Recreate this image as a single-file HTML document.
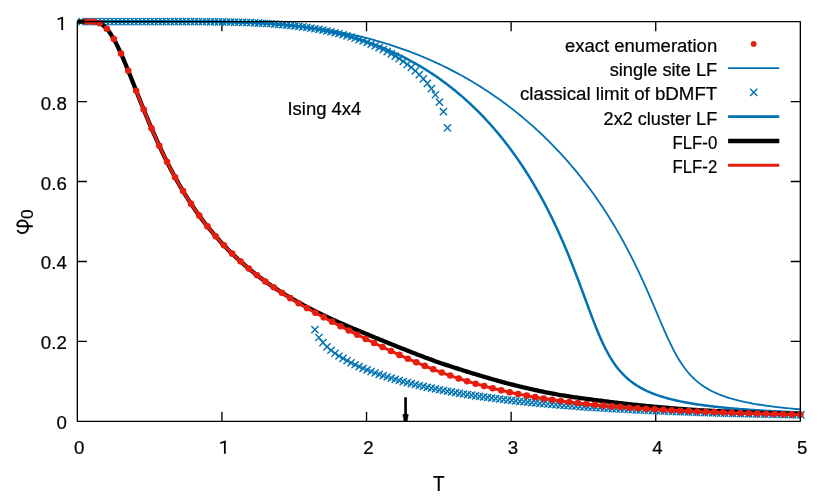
<!DOCTYPE html><html><head><meta charset="utf-8"><title>plot</title><style>html,body{margin:0;padding:0;background:#fff}svg{display:block}text{font-family:"Liberation Sans",sans-serif;font-size:18.7px;fill:#000;stroke:#000;stroke-width:.22px}</style></head><body>
<svg width="830" height="498" viewBox="0 0 830 498">
<rect width="830" height="498" fill="#fff"/>
<path d="M221.93,421.33 v-9.6 M221.93,21.67 v9.6 M366.53,421.33 v-9.6 M366.53,21.67 v9.6 M511.13,421.33 v-9.6 M511.13,21.67 v9.6 M655.73,421.33 v-9.6 M655.73,21.67 v9.6 M77.33,341.40 h9.6 M800.33,341.40 h-9.6 M77.33,261.47 h9.6 M800.33,261.47 h-9.6 M77.33,181.53 h9.6 M800.33,181.53 h-9.6 M77.33,101.60 h9.6 M800.33,101.60 h-9.6" stroke="#000" stroke-width="1.33" fill="none"/>
<path transform="translate(63.1,29.9)" d="M0,0 H-1.8 V-11.1 L-5.5,-9.7 V-11.4 L-0.5,-13.2 H0 Z" fill="#000"/>
<path transform="translate(225.75,453.75)" d="M0,0 H-1.8 V-11.1 L-5.5,-9.7 V-11.4 L-0.5,-13.2 H0 Z" fill="#000"/>
<path transform="translate(0,0.5)" d="M17.4,229.6 C18.5,231.6 20.5,232.6 22.3,232.6 C25.8,232.6 28.0,229.9 28.0,226.3 C28.0,222.8 25.8,220.0 22.3,220.0 C19.5,220.0 17.3,221.9 17.3,224.3 C17.3,225.3 17.9,225.7 19.0,225.7 H32.8" fill="none" stroke="#000" stroke-width="1.9"/>
<defs><clipPath id="c"><rect x="71.33" y="15.670000000000002" width="735.0" height="411.65999999999997"/></clipPath>
<path id="x" d="M-3.6,-3.6 L3.6,3.6 M-3.6,3.6 L3.6,-3.6" stroke="#0072b2" stroke-width="1.4" fill="none"/></defs>
<g clip-path="url(#c)" fill="none" stroke-linejoin="round">
<path d="M77.33,21.67 L78.78,21.67 L80.22,21.67 L81.67,21.67 L83.11,21.67 L84.56,21.67 L86.01,21.67 L87.45,21.67 L88.90,21.67 L90.34,21.67 L91.79,21.67 L93.24,21.67 L94.68,21.67 L96.13,21.67 L97.57,21.67 L99.02,21.67 L100.47,21.67 L101.91,21.67 L103.36,21.67 L104.80,21.67 L106.25,21.67 L107.70,21.67 L109.14,21.67 L110.59,21.67 L112.03,21.67 L113.48,21.67 L114.93,21.67 L116.37,21.67 L117.82,21.67 L119.26,21.67 L120.71,21.67 L122.16,21.67 L123.60,21.67 L125.05,21.67 L126.49,21.67 L127.94,21.67 L129.39,21.67 L130.83,21.67 L132.28,21.67 L133.72,21.67 L135.17,21.67 L136.62,21.67 L138.06,21.67 L139.51,21.67 L140.95,21.67 L142.40,21.67 L143.85,21.67 L145.29,21.67 L146.74,21.67 L148.18,21.67 L149.63,21.67 L151.08,21.67 L152.52,21.67 L153.97,21.67 L155.41,21.67 L156.86,21.67 L158.31,21.67 L159.75,21.67 L161.20,21.67 L162.64,21.67 L164.09,21.67 L165.54,21.67 L166.98,21.67 L168.43,21.67 L169.87,21.67 L171.32,21.67 L172.77,21.67 L174.21,21.67 L175.66,21.68 L177.10,21.68 L178.55,21.68 L180.00,21.68 L181.44,21.68 L182.89,21.68 L184.33,21.68 L185.78,21.69 L187.23,21.69 L188.67,21.69 L190.12,21.70 L191.56,21.70 L193.01,21.70 L194.46,21.71 L195.90,21.71 L197.35,21.72 L198.79,21.72 L200.24,21.73 L201.69,21.74 L203.13,21.75 L204.58,21.75 L206.02,21.76 L207.47,21.77 L208.92,21.78 L210.36,21.80 L211.81,21.81 L213.25,21.82 L214.70,21.84 L216.15,21.85 L217.59,21.87 L219.04,21.89 L220.48,21.90 L221.93,21.92 L223.38,21.94 L224.82,21.97 L226.27,21.99 L227.71,22.02 L229.16,22.04 L230.61,22.07 L232.05,22.10 L233.50,22.13 L234.94,22.17 L236.39,22.20 L237.84,22.24 L239.28,22.27 L240.73,22.32 L242.17,22.36 L243.62,22.40 L245.07,22.45 L246.51,22.50 L247.96,22.55 L249.40,22.60 L250.85,22.65 L252.30,22.71 L253.74,22.77 L255.19,22.83 L256.63,22.89 L258.08,22.96 L259.53,23.03 L260.97,23.10 L262.42,23.17 L263.86,23.25 L265.31,23.33 L266.76,23.41 L268.20,23.50 L269.65,23.59 L271.09,23.68 L272.54,23.77 L273.99,23.87 L275.43,23.97 L276.88,24.07 L278.32,24.17 L279.77,24.28 L281.22,24.40 L282.66,24.51 L284.11,24.63 L285.55,24.75 L287.00,24.88 L288.45,25.01 L289.89,25.14 L291.34,25.27 L292.78,25.41 L294.23,25.56 L295.68,25.70 L297.12,25.85 L298.57,26.01 L300.01,26.16 L301.46,26.33 L302.91,26.49 L304.35,26.66 L305.80,26.83 L307.24,27.01 L308.69,27.19 L310.14,27.37 L311.58,27.56 L313.03,27.76 L314.47,27.95 L315.92,28.15 L317.37,28.36 L318.81,28.57 L320.26,28.78 L321.70,29.00 L323.15,29.22 L324.60,29.45 L326.04,29.68 L327.49,29.92 L328.93,30.16 L330.38,30.40 L331.83,30.65 L333.27,30.90 L334.72,31.16 L336.16,31.42 L337.61,31.69 L339.06,31.96 L340.50,32.24 L341.95,32.52 L343.39,32.81 L344.84,33.10 L346.29,33.40 L347.73,33.70 L349.18,34.00 L350.62,34.31 L352.07,34.63 L353.52,34.95 L354.96,35.28 L356.41,35.61 L357.85,35.94 L359.30,36.28 L360.75,36.63 L362.19,36.98 L363.64,37.34 L365.08,37.70 L366.53,38.07 L367.98,38.44 L369.42,38.82 L370.87,39.20 L372.31,39.59 L373.76,39.98 L375.21,40.38 L376.65,40.79 L378.10,41.20 L379.54,41.62 L380.99,42.04 L382.44,42.47 L383.88,42.90 L385.33,43.34 L386.77,43.78 L388.22,44.23 L389.67,44.69 L391.11,45.15 L392.56,45.62 L394.00,46.10 L395.45,46.58 L396.90,47.06 L398.34,47.55 L399.79,48.05 L401.23,48.56 L402.68,49.07 L404.13,49.58 L405.57,50.10 L407.02,50.63 L408.46,51.17 L409.91,51.71 L411.36,52.26 L412.80,52.81 L414.25,53.37 L415.69,53.94 L417.14,54.51 L418.59,55.09 L420.03,55.68 L421.48,56.27 L422.92,56.87 L424.37,57.48 L425.82,58.10 L427.26,58.72 L428.71,59.34 L430.15,59.98 L431.60,60.62 L433.05,61.27 L434.49,61.92 L435.94,62.58 L437.38,63.25 L438.83,63.93 L440.28,64.61 L441.72,65.30 L443.17,66.00 L444.61,66.71 L446.06,67.42 L447.51,68.14 L448.95,68.87 L450.40,69.60 L451.84,70.34 L453.29,71.09 L454.74,71.85 L456.18,72.62 L457.63,73.39 L459.07,74.17 L460.52,74.96 L461.97,75.76 L463.41,76.57 L464.86,77.38 L466.30,78.20 L467.75,79.03 L469.20,79.87 L470.64,80.72 L472.09,81.57 L473.53,82.43 L474.98,83.31 L476.43,84.19 L477.87,85.08 L479.32,85.97 L480.76,86.88 L482.21,87.80 L483.66,88.72 L485.10,89.66 L486.55,90.60 L487.99,91.55 L489.44,92.51 L490.89,93.48 L492.33,94.46 L493.78,95.45 L495.22,96.45 L496.67,97.46 L498.12,98.48 L499.56,99.51 L501.01,100.55 L502.45,101.59 L503.90,102.65 L505.35,103.72 L506.79,104.80 L508.24,105.89 L509.68,106.99 L511.13,108.10 L512.58,109.22 L514.02,110.36 L515.47,111.50 L516.91,112.66 L518.36,113.82 L519.81,115.00 L521.25,116.19 L522.70,117.39 L524.14,118.60 L525.59,119.82 L527.04,121.06 L528.48,122.31 L529.93,123.57 L531.37,124.84 L532.82,126.13 L534.27,127.42 L535.71,128.73 L537.16,130.06 L538.60,131.39 L540.05,132.74 L541.50,134.11 L542.94,135.49 L544.39,136.88 L545.83,138.28 L547.28,139.70 L548.73,141.14 L550.17,142.58 L551.62,144.05 L553.06,145.53 L554.51,147.02 L555.96,148.53 L557.40,150.05 L558.85,151.59 L560.29,153.15 L561.74,154.72 L563.19,156.31 L564.63,157.92 L566.08,159.54 L567.52,161.18 L568.97,162.84 L570.42,164.52 L571.86,166.21 L573.31,167.92 L574.75,169.65 L576.20,171.41 L577.65,173.18 L579.09,174.97 L580.54,176.78 L581.98,178.61 L583.43,180.46 L584.88,182.33 L586.32,184.23 L587.77,186.14 L589.21,188.08 L590.66,190.05 L592.11,192.03 L593.55,194.04 L595.00,196.07 L596.44,198.13 L597.89,200.21 L599.34,202.32 L600.78,204.46 L602.23,206.62 L603.67,208.81 L605.12,211.03 L606.57,213.27 L608.01,215.55 L609.46,217.85 L610.90,220.19 L612.35,222.55 L613.80,224.95 L615.24,227.38 L616.69,229.84 L618.13,232.34 L619.58,234.86 L621.03,237.43 L622.47,240.03 L623.92,242.67 L625.36,245.34 L626.81,248.05 L628.26,250.80 L629.70,253.59 L631.15,256.42 L632.59,259.28 L634.04,262.19 L635.49,265.14 L636.93,268.12 L638.38,271.15 L639.82,274.22 L641.27,277.33 L642.72,280.48 L644.16,283.67 L645.61,286.89 L647.05,290.15 L648.50,293.44 L649.95,296.77 L651.39,300.12 L652.84,303.49 L654.28,306.88 L655.73,310.29 L657.18,313.70 L658.62,317.11 L660.07,320.50 L661.51,323.88 L662.96,327.24 L664.41,330.55 L665.85,333.81 L667.30,337.01 L668.74,340.15 L670.19,343.20 L671.64,346.17 L673.08,349.03 L674.53,351.80 L675.97,354.46 L677.42,357.01 L678.87,359.44 L680.31,361.77 L681.76,363.98 L683.20,366.08 L684.65,368.07 L686.10,369.96 L687.54,371.75 L688.99,373.45 L690.43,375.06 L691.88,376.58 L693.33,378.01 L694.77,379.38 L696.22,380.67 L697.66,381.89 L699.11,383.05 L700.56,384.15 L702.00,385.20 L703.45,386.19 L704.89,387.14 L706.34,388.03 L707.79,388.89 L709.23,389.71 L710.68,390.49 L712.12,391.23 L713.57,391.94 L715.02,392.62 L716.46,393.27 L717.91,393.89 L719.35,394.49 L720.80,395.06 L722.25,395.61 L723.69,396.14 L725.14,396.64 L726.58,397.13 L728.03,397.60 L729.48,398.05 L730.92,398.49 L732.37,398.91 L733.81,399.31 L735.26,399.71 L736.71,400.08 L738.15,400.45 L739.60,400.80 L741.04,401.14 L742.49,401.47 L743.94,401.79 L745.38,402.10 L746.83,402.40 L748.27,402.69 L749.72,402.98 L751.17,403.25 L752.61,403.52 L754.06,403.78 L755.50,404.03 L756.95,404.27 L758.40,404.51 L759.84,404.74 L761.29,404.96 L762.73,405.18 L764.18,405.40 L765.63,405.60 L767.07,405.81 L768.52,406.00 L769.96,406.20 L771.41,406.38 L772.86,406.57 L774.30,406.75 L775.75,406.92 L777.19,407.09 L778.64,407.26 L780.09,407.42 L781.53,407.58 L782.98,407.73 L784.42,407.89 L785.87,408.03 L787.32,408.18 L788.76,408.32 L790.21,408.46 L791.65,408.60 L793.10,408.73 L794.55,408.86 L795.99,408.99 L797.44,409.11 L798.88,409.24 L800.33,409.36" stroke="#0072b2" stroke-width="1.8"/>
<use href="#x" x="81.95" y="21.67"/><use href="#x" x="85.97" y="21.67"/><use href="#x" x="89.98" y="21.67"/><use href="#x" x="94.00" y="21.67"/><use href="#x" x="98.02" y="21.67"/><use href="#x" x="102.03" y="21.67"/><use href="#x" x="106.05" y="21.67"/><use href="#x" x="110.07" y="21.67"/><use href="#x" x="114.08" y="21.67"/><use href="#x" x="118.10" y="21.67"/><use href="#x" x="122.12" y="21.67"/><use href="#x" x="126.13" y="21.67"/><use href="#x" x="130.15" y="21.67"/><use href="#x" x="134.17" y="21.67"/><use href="#x" x="138.18" y="21.67"/><use href="#x" x="142.20" y="21.67"/><use href="#x" x="146.22" y="21.67"/><use href="#x" x="150.23" y="21.67"/><use href="#x" x="154.25" y="21.67"/><use href="#x" x="158.27" y="21.67"/><use href="#x" x="162.28" y="21.67"/><use href="#x" x="166.30" y="21.67"/><use href="#x" x="170.32" y="21.67"/><use href="#x" x="174.33" y="21.67"/><use href="#x" x="178.35" y="21.68"/><use href="#x" x="182.37" y="21.68"/><use href="#x" x="186.38" y="21.69"/><use href="#x" x="190.40" y="21.70"/><use href="#x" x="194.42" y="21.71"/><use href="#x" x="198.43" y="21.72"/><use href="#x" x="202.45" y="21.74"/><use href="#x" x="206.47" y="21.77"/><use href="#x" x="210.48" y="21.80"/><use href="#x" x="214.50" y="21.83"/><use href="#x" x="218.52" y="21.88"/><use href="#x" x="222.53" y="21.94"/><use href="#x" x="226.55" y="22.00"/><use href="#x" x="230.57" y="22.08"/><use href="#x" x="234.58" y="22.17"/><use href="#x" x="238.60" y="22.27"/><use href="#x" x="242.62" y="22.39"/><use href="#x" x="246.63" y="22.52"/><use href="#x" x="250.65" y="22.67"/><use href="#x" x="254.67" y="22.84"/><use href="#x" x="258.68" y="23.04"/><use href="#x" x="262.70" y="23.25"/><use href="#x" x="266.72" y="23.49"/><use href="#x" x="270.73" y="23.75"/><use href="#x" x="274.75" y="24.04"/><use href="#x" x="278.77" y="24.36"/><use href="#x" x="282.78" y="24.70"/><use href="#x" x="286.80" y="25.08"/><use href="#x" x="290.82" y="25.49"/><use href="#x" x="294.83" y="25.94"/><use href="#x" x="298.85" y="26.42"/><use href="#x" x="302.87" y="26.94"/><use href="#x" x="306.88" y="27.50"/><use href="#x" x="310.90" y="28.11"/><use href="#x" x="314.92" y="28.76"/><use href="#x" x="318.93" y="29.45"/><use href="#x" x="322.95" y="30.20"/><use href="#x" x="326.97" y="30.99"/><use href="#x" x="330.98" y="31.84"/><use href="#x" x="335.00" y="32.75"/><use href="#x" x="339.02" y="33.72"/><use href="#x" x="343.03" y="34.75"/><use href="#x" x="347.05" y="35.85"/><use href="#x" x="351.07" y="37.02"/><use href="#x" x="355.08" y="38.27"/><use href="#x" x="359.10" y="39.59"/><use href="#x" x="363.12" y="41.00"/><use href="#x" x="367.13" y="42.50"/><use href="#x" x="371.15" y="44.10"/><use href="#x" x="375.17" y="45.79"/><use href="#x" x="379.18" y="47.60"/><use href="#x" x="383.20" y="49.53"/><use href="#x" x="387.22" y="51.59"/><use href="#x" x="391.23" y="53.79"/><use href="#x" x="395.25" y="56.14"/><use href="#x" x="399.27" y="58.66"/><use href="#x" x="403.28" y="61.37"/><use href="#x" x="407.30" y="64.29"/><use href="#x" x="411.32" y="67.45"/><use href="#x" x="415.33" y="70.89"/><use href="#x" x="419.35" y="74.66"/><use href="#x" x="423.37" y="78.81"/><use href="#x" x="427.38" y="83.44"/><use href="#x" x="431.40" y="88.69"/><use href="#x" x="435.42" y="94.77"/><use href="#x" x="439.43" y="102.09"/><use href="#x" x="443.45" y="111.62"/><use href="#x" x="447.47" y="127.82"/><use href="#x" x="314.92" y="329.57"/><use href="#x" x="318.93" y="337.53"/><use href="#x" x="322.95" y="342.71"/><use href="#x" x="326.97" y="346.80"/><use href="#x" x="330.98" y="350.25"/><use href="#x" x="335.00" y="353.28"/><use href="#x" x="339.02" y="355.99"/><use href="#x" x="343.03" y="358.45"/><use href="#x" x="347.05" y="360.71"/><use href="#x" x="351.07" y="362.81"/><use href="#x" x="355.08" y="364.76"/><use href="#x" x="359.10" y="366.60"/><use href="#x" x="363.12" y="368.32"/><use href="#x" x="367.13" y="369.95"/><use href="#x" x="371.15" y="371.50"/><use href="#x" x="375.17" y="372.97"/><use href="#x" x="379.18" y="374.36"/><use href="#x" x="383.20" y="375.70"/><use href="#x" x="387.22" y="376.98"/><use href="#x" x="391.23" y="378.20"/><use href="#x" x="395.25" y="379.37"/><use href="#x" x="399.27" y="380.50"/><use href="#x" x="403.28" y="381.58"/><use href="#x" x="407.30" y="382.62"/><use href="#x" x="411.32" y="383.63"/><use href="#x" x="415.33" y="384.59"/><use href="#x" x="419.35" y="385.53"/><use href="#x" x="423.37" y="386.43"/><use href="#x" x="427.38" y="387.30"/><use href="#x" x="431.40" y="388.14"/><use href="#x" x="435.42" y="388.95"/><use href="#x" x="439.43" y="389.74"/><use href="#x" x="443.45" y="390.50"/><use href="#x" x="447.47" y="391.24"/><use href="#x" x="451.48" y="391.95"/><use href="#x" x="455.50" y="392.64"/><use href="#x" x="459.52" y="393.32"/><use href="#x" x="463.53" y="393.97"/><use href="#x" x="467.55" y="394.60"/><use href="#x" x="471.57" y="395.21"/><use href="#x" x="475.58" y="395.80"/><use href="#x" x="479.60" y="396.38"/><use href="#x" x="483.62" y="396.94"/><use href="#x" x="487.63" y="397.49"/><use href="#x" x="491.65" y="398.01"/><use href="#x" x="495.67" y="398.53"/><use href="#x" x="499.68" y="399.03"/><use href="#x" x="503.70" y="399.51"/><use href="#x" x="507.72" y="399.98"/><use href="#x" x="511.73" y="400.44"/><use href="#x" x="515.75" y="400.88"/><use href="#x" x="519.77" y="401.32"/><use href="#x" x="523.78" y="401.74"/><use href="#x" x="527.80" y="402.15"/><use href="#x" x="531.82" y="402.54"/><use href="#x" x="535.83" y="402.93"/><use href="#x" x="539.85" y="403.31"/><use href="#x" x="543.87" y="403.67"/><use href="#x" x="547.88" y="404.03"/><use href="#x" x="551.90" y="404.37"/><use href="#x" x="555.92" y="404.71"/><use href="#x" x="559.93" y="405.04"/><use href="#x" x="563.95" y="405.36"/><use href="#x" x="567.97" y="405.67"/><use href="#x" x="571.98" y="405.97"/><use href="#x" x="576.00" y="406.26"/><use href="#x" x="580.02" y="406.55"/><use href="#x" x="584.03" y="406.83"/><use href="#x" x="588.05" y="407.10"/><use href="#x" x="592.07" y="407.36"/><use href="#x" x="596.08" y="407.62"/><use href="#x" x="600.10" y="407.87"/><use href="#x" x="604.12" y="408.11"/><use href="#x" x="608.13" y="408.35"/><use href="#x" x="612.15" y="408.58"/><use href="#x" x="616.17" y="408.81"/><use href="#x" x="620.18" y="409.02"/><use href="#x" x="624.20" y="409.24"/><use href="#x" x="628.22" y="409.45"/><use href="#x" x="632.23" y="409.65"/><use href="#x" x="636.25" y="409.85"/><use href="#x" x="640.27" y="410.04"/><use href="#x" x="644.28" y="410.23"/><use href="#x" x="648.30" y="410.41"/><use href="#x" x="652.32" y="410.59"/><use href="#x" x="656.33" y="410.76"/><use href="#x" x="660.35" y="410.93"/><use href="#x" x="664.37" y="411.10"/><use href="#x" x="668.38" y="411.26"/><use href="#x" x="672.40" y="411.42"/><use href="#x" x="676.42" y="411.57"/><use href="#x" x="680.43" y="411.72"/><use href="#x" x="684.45" y="411.87"/><use href="#x" x="688.47" y="412.01"/><use href="#x" x="692.48" y="412.15"/><use href="#x" x="696.50" y="412.29"/><use href="#x" x="700.52" y="412.42"/><use href="#x" x="704.53" y="412.55"/><use href="#x" x="708.55" y="412.68"/><use href="#x" x="712.57" y="412.80"/><use href="#x" x="716.58" y="412.92"/><use href="#x" x="720.60" y="413.04"/><use href="#x" x="724.62" y="413.16"/><use href="#x" x="728.63" y="413.27"/><use href="#x" x="732.65" y="413.38"/><use href="#x" x="736.67" y="413.49"/><use href="#x" x="740.68" y="413.59"/><use href="#x" x="744.70" y="413.70"/><use href="#x" x="748.72" y="413.80"/><use href="#x" x="752.73" y="413.90"/><use href="#x" x="756.75" y="413.99"/><use href="#x" x="760.77" y="414.09"/><use href="#x" x="764.78" y="414.18"/><use href="#x" x="768.80" y="414.27"/><use href="#x" x="772.82" y="414.36"/><use href="#x" x="776.83" y="414.45"/><use href="#x" x="780.85" y="414.53"/><use href="#x" x="784.87" y="414.61"/><use href="#x" x="788.88" y="414.70"/><use href="#x" x="792.90" y="414.78"/><use href="#x" x="796.92" y="414.85"/><use href="#x" x="800.93" y="414.93"/>
<path d="M77.33,21.67 L78.78,21.67 L80.22,21.67 L81.67,21.67 L83.11,21.67 L84.56,21.67 L86.01,21.67 L87.45,21.67 L88.90,21.67 L90.34,21.67 L91.79,21.67 L93.24,21.67 L94.68,21.67 L96.13,21.67 L97.57,21.67 L99.02,21.67 L100.47,21.67 L101.91,21.67 L103.36,21.67 L104.80,21.67 L106.25,21.67 L107.70,21.67 L109.14,21.67 L110.59,21.67 L112.03,21.67 L113.48,21.67 L114.93,21.67 L116.37,21.67 L117.82,21.67 L119.26,21.67 L120.71,21.67 L122.16,21.67 L123.60,21.67 L125.05,21.67 L126.49,21.67 L127.94,21.67 L129.39,21.67 L130.83,21.67 L132.28,21.67 L133.72,21.67 L135.17,21.67 L136.62,21.67 L138.06,21.67 L139.51,21.67 L140.95,21.67 L142.40,21.67 L143.85,21.67 L145.29,21.67 L146.74,21.67 L148.18,21.67 L149.63,21.67 L151.08,21.67 L152.52,21.67 L153.97,21.67 L155.41,21.67 L156.86,21.67 L158.31,21.67 L159.75,21.67 L161.20,21.67 L162.64,21.67 L164.09,21.67 L165.54,21.67 L166.98,21.67 L168.43,21.67 L169.87,21.67 L171.32,21.67 L172.77,21.67 L174.21,21.67 L175.66,21.68 L177.10,21.68 L178.55,21.68 L180.00,21.68 L181.44,21.68 L182.89,21.68 L184.33,21.69 L185.78,21.69 L187.23,21.69 L188.67,21.69 L190.12,21.70 L191.56,21.70 L193.01,21.70 L194.46,21.71 L195.90,21.71 L197.35,21.72 L198.79,21.73 L200.24,21.73 L201.69,21.74 L203.13,21.75 L204.58,21.76 L206.02,21.77 L207.47,21.78 L208.92,21.79 L210.36,21.80 L211.81,21.81 L213.25,21.83 L214.70,21.84 L216.15,21.86 L217.59,21.87 L219.04,21.89 L220.48,21.91 L221.93,21.93 L223.38,21.95 L224.82,21.98 L226.27,22.00 L227.71,22.03 L229.16,22.06 L230.61,22.09 L232.05,22.12 L233.50,22.15 L234.94,22.19 L236.39,22.22 L237.84,22.26 L239.28,22.30 L240.73,22.35 L242.17,22.39 L243.62,22.44 L245.07,22.49 L246.51,22.54 L247.96,22.60 L249.40,22.65 L250.85,22.71 L252.30,22.78 L253.74,22.84 L255.19,22.91 L256.63,22.98 L258.08,23.05 L259.53,23.13 L260.97,23.21 L262.42,23.29 L263.86,23.37 L265.31,23.46 L266.76,23.55 L268.20,23.65 L269.65,23.75 L271.09,23.85 L272.54,23.96 L273.99,24.06 L275.43,24.18 L276.88,24.29 L278.32,24.41 L279.77,24.54 L281.22,24.67 L282.66,24.80 L284.11,24.94 L285.55,25.08 L287.00,25.22 L288.45,25.37 L289.89,25.52 L291.34,25.68 L292.78,25.85 L294.23,26.01 L295.68,26.18 L297.12,26.36 L298.57,26.54 L300.01,26.73 L301.46,26.92 L302.91,27.11 L304.35,27.32 L305.80,27.52 L307.24,27.73 L308.69,27.95 L310.14,28.17 L311.58,28.40 L313.03,28.63 L314.47,28.87 L315.92,29.11 L317.37,29.36 L318.81,29.62 L320.26,29.88 L321.70,30.15 L323.15,30.42 L324.60,30.70 L326.04,30.98 L327.49,31.28 L328.93,31.57 L330.38,31.88 L331.83,32.19 L333.27,32.50 L334.72,32.83 L336.16,33.16 L337.61,33.49 L339.06,33.84 L340.50,34.19 L341.95,34.54 L343.39,34.91 L344.84,35.28 L346.29,35.66 L347.73,36.04 L349.18,36.43 L350.62,36.83 L352.07,37.24 L353.52,37.66 L354.96,38.08 L356.41,38.51 L357.85,38.94 L359.30,39.39 L360.75,39.84 L362.19,40.30 L363.64,40.77 L365.08,41.25 L366.53,41.73 L367.98,42.23 L369.42,42.73 L370.87,43.24 L372.31,43.76 L373.76,44.28 L375.21,44.82 L376.65,45.36 L378.10,45.92 L379.54,46.48 L380.99,47.05 L382.44,47.63 L383.88,48.22 L385.33,48.82 L386.77,49.42 L388.22,50.04 L389.67,50.67 L391.11,51.30 L392.56,51.95 L394.00,52.60 L395.45,53.27 L396.90,53.95 L398.34,54.63 L399.79,55.33 L401.23,56.03 L402.68,56.75 L404.13,57.47 L405.57,58.21 L407.02,58.96 L408.46,59.72 L409.91,60.49 L411.36,61.27 L412.80,62.06 L414.25,62.86 L415.69,63.67 L417.14,64.50 L418.59,65.33 L420.03,66.18 L421.48,67.04 L422.92,67.91 L424.37,68.80 L425.82,69.69 L427.26,70.60 L428.71,71.52 L430.15,72.45 L431.60,73.40 L433.05,74.36 L434.49,75.33 L435.94,76.31 L437.38,77.31 L438.83,78.32 L440.28,79.34 L441.72,80.38 L443.17,81.43 L444.61,82.50 L446.06,83.58 L447.51,84.67 L448.95,85.78 L450.40,86.90 L451.84,88.04 L453.29,89.19 L454.74,90.35 L456.18,91.54 L457.63,92.73 L459.07,93.95 L460.52,95.18 L461.97,96.42 L463.41,97.68 L464.86,98.96 L466.30,100.25 L467.75,101.56 L469.20,102.89 L470.64,104.24 L472.09,105.60 L473.53,106.98 L474.98,108.38 L476.43,109.79 L477.87,111.23 L479.32,112.68 L480.76,114.15 L482.21,115.64 L483.66,117.15 L485.10,118.68 L486.55,120.23 L487.99,121.80 L489.44,123.40 L490.89,125.01 L492.33,126.64 L493.78,128.30 L495.22,129.97 L496.67,131.67 L498.12,133.39 L499.56,135.14 L501.01,136.91 L502.45,138.70 L503.90,140.52 L505.35,142.36 L506.79,144.22 L508.24,146.11 L509.68,148.03 L511.13,149.97 L512.58,151.94 L514.02,153.94 L515.47,155.97 L516.91,158.02 L518.36,160.10 L519.81,162.21 L521.25,164.35 L522.70,166.52 L524.14,168.73 L525.59,170.96 L527.04,173.23 L528.48,175.53 L529.93,177.86 L531.37,180.23 L532.82,182.63 L534.27,185.07 L535.71,187.54 L537.16,190.06 L538.60,192.60 L540.05,195.19 L541.50,197.82 L542.94,200.49 L544.39,203.20 L545.83,205.95 L547.28,208.75 L548.73,211.58 L550.17,214.47 L551.62,217.40 L553.06,220.37 L554.51,223.39 L555.96,226.46 L557.40,229.58 L558.85,232.75 L560.29,235.97 L561.74,239.24 L563.19,242.56 L564.63,245.93 L566.08,249.35 L567.52,252.83 L568.97,256.35 L570.42,259.93 L571.86,263.55 L573.31,267.23 L574.75,270.95 L576.20,274.71 L577.65,278.51 L579.09,282.35 L580.54,286.22 L581.98,290.11 L583.43,294.03 L584.88,297.95 L586.32,301.88 L587.77,305.80 L589.21,309.70 L590.66,313.56 L592.11,317.39 L593.55,321.16 L595.00,324.86 L596.44,328.49 L597.89,332.02 L599.34,335.44 L600.78,338.76 L602.23,341.95 L603.67,345.03 L605.12,347.97 L606.57,350.78 L608.01,353.46 L609.46,356.00 L610.90,358.42 L612.35,360.72 L613.80,362.90 L615.24,364.96 L616.69,366.91 L618.13,368.75 L619.58,370.50 L621.03,372.15 L622.47,373.71 L623.92,375.19 L625.36,376.60 L626.81,377.93 L628.26,379.19 L629.70,380.39 L631.15,381.53 L632.59,382.61 L634.04,383.64 L635.49,384.62 L636.93,385.55 L638.38,386.45 L639.82,387.30 L641.27,388.11 L642.72,388.89 L644.16,389.63 L645.61,390.34 L647.05,391.03 L648.50,391.68 L649.95,392.31 L651.39,392.91 L652.84,393.49 L654.28,394.05 L655.73,394.59 L657.18,395.10 L658.62,395.60 L660.07,396.08 L661.51,396.54 L662.96,396.99 L664.41,397.42 L665.85,397.84 L667.30,398.24 L668.74,398.63 L670.19,399.01 L671.64,399.38 L673.08,399.73 L674.53,400.07 L675.97,400.41 L677.42,400.73 L678.87,401.04 L680.31,401.35 L681.76,401.64 L683.20,401.93 L684.65,402.21 L686.10,402.48 L687.54,402.74 L688.99,403.00 L690.43,403.25 L691.88,403.49 L693.33,403.73 L694.77,403.96 L696.22,404.18 L697.66,404.40 L699.11,404.62 L700.56,404.83 L702.00,405.03 L703.45,405.23 L704.89,405.42 L706.34,405.61 L707.79,405.80 L709.23,405.98 L710.68,406.16 L712.12,406.33 L713.57,406.50 L715.02,406.66 L716.46,406.83 L717.91,406.99 L719.35,407.14 L720.80,407.29 L722.25,407.44 L723.69,407.59 L725.14,407.73 L726.58,407.87 L728.03,408.01 L729.48,408.14 L730.92,408.27 L732.37,408.40 L733.81,408.53 L735.26,408.65 L736.71,408.77 L738.15,408.89 L739.60,409.01 L741.04,409.13 L742.49,409.24 L743.94,409.35 L745.38,409.46 L746.83,409.57 L748.27,409.67 L749.72,409.78 L751.17,409.88 L752.61,409.98 L754.06,410.08 L755.50,410.17 L756.95,410.27 L758.40,410.36 L759.84,410.45 L761.29,410.54 L762.73,410.63 L764.18,410.72 L765.63,410.81 L767.07,410.89 L768.52,410.98 L769.96,411.06 L771.41,411.14 L772.86,411.22 L774.30,411.30 L775.75,411.37 L777.19,411.45 L778.64,411.53 L780.09,411.60 L781.53,411.67 L782.98,411.74 L784.42,411.81 L785.87,411.88 L787.32,411.95 L788.76,412.02 L790.21,412.09 L791.65,412.15 L793.10,412.22 L794.55,412.28 L795.99,412.35 L797.44,412.41 L798.88,412.47 L800.33,412.53" stroke="#0072b2" stroke-width="2.5"/>
<path d="M77.33,21.67 L78.78,21.67 L80.22,21.67 L81.67,21.67 L83.11,21.67 L84.56,21.67 L86.01,21.67 L87.45,21.67 L88.90,21.67 L90.34,21.69 L91.79,21.72 L93.24,21.80 L94.68,21.94 L96.13,22.17 L97.57,22.51 L99.02,23.00 L100.47,23.65 L101.91,24.48 L103.36,25.51 L104.80,26.75 L106.25,28.19 L107.70,29.85 L109.14,31.72 L110.59,33.79 L112.03,36.05 L113.48,38.49 L114.93,41.10 L116.37,43.87 L117.82,46.78 L119.26,49.82 L120.71,52.98 L122.16,56.23 L123.60,59.58 L125.05,63.00 L126.49,66.48 L127.94,70.02 L129.39,73.60 L130.83,77.21 L132.28,80.85 L133.72,84.50 L135.17,88.15 L136.62,91.81 L138.06,95.46 L139.51,99.10 L140.95,102.72 L142.40,106.32 L143.85,109.89 L145.29,113.44 L146.74,116.95 L148.18,120.43 L149.63,123.87 L151.08,127.28 L152.52,130.64 L153.97,133.96 L155.41,137.23 L156.86,140.47 L158.31,143.65 L159.75,146.80 L161.20,149.89 L162.64,152.94 L164.09,155.94 L165.54,158.90 L166.98,161.81 L168.43,164.67 L169.87,167.49 L171.32,170.26 L172.77,172.99 L174.21,175.67 L175.66,178.31 L177.10,180.90 L178.55,183.45 L180.00,185.96 L181.44,188.43 L182.89,190.85 L184.33,193.24 L185.78,195.58 L187.23,197.88 L188.67,200.15 L190.12,202.38 L191.56,204.57 L193.01,206.73 L194.46,208.85 L195.90,210.93 L197.35,212.98 L198.79,214.99 L200.24,216.98 L201.69,218.93 L203.13,220.85 L204.58,222.74 L206.02,224.59 L207.47,226.42 L208.92,228.22 L210.36,229.99 L211.81,231.73 L213.25,233.45 L214.70,235.14 L216.15,236.80 L217.59,238.44 L219.04,240.05 L220.48,241.64 L221.93,243.21 L223.38,244.75 L224.82,246.27 L226.27,247.76 L227.71,249.24 L229.16,250.69 L230.61,252.13 L232.05,253.54 L233.50,254.93 L234.94,256.31 L236.39,257.66 L237.84,259.00 L239.28,260.32 L240.73,261.62 L242.17,262.90 L243.62,264.17 L245.07,265.42 L246.51,266.66 L247.96,267.88 L249.40,269.08 L250.85,270.27 L252.30,271.45 L253.74,272.60 L255.19,273.75 L256.63,274.88 L258.08,275.99 L259.53,277.09 L260.97,278.18 L262.42,279.26 L263.86,280.32 L265.31,281.37 L266.76,282.40 L268.20,283.43 L269.65,284.44 L271.09,285.44 L272.54,286.43 L273.99,287.41 L275.43,288.39 L276.88,289.35 L278.32,290.30 L279.77,291.24 L281.22,292.17 L282.66,293.08 L284.11,293.98 L285.55,294.87 L287.00,295.74 L288.45,296.61 L289.89,297.46 L291.34,298.31 L292.78,299.14 L294.23,299.97 L295.68,300.80 L297.12,301.61 L298.57,302.42 L300.01,303.22 L301.46,304.01 L302.91,304.79 L304.35,305.57 L305.80,306.34 L307.24,307.10 L308.69,307.85 L310.14,308.60 L311.58,309.34 L313.03,310.08 L314.47,310.81 L315.92,311.53 L317.37,312.25 L318.81,312.97 L320.26,313.67 L321.70,314.38 L323.15,315.08 L324.60,315.77 L326.04,316.46 L327.49,317.15 L328.93,317.83 L330.38,318.51 L331.83,319.18 L333.27,319.85 L334.72,320.51 L336.16,321.16 L337.61,321.81 L339.06,322.45 L340.50,323.08 L341.95,323.71 L343.39,324.34 L344.84,324.96 L346.29,325.58 L347.73,326.19 L349.18,326.80 L350.62,327.41 L352.07,328.02 L353.52,328.62 L354.96,329.22 L356.41,329.83 L357.85,330.42 L359.30,331.02 L360.75,331.62 L362.19,332.22 L363.64,332.82 L365.08,333.41 L366.53,334.01 L367.98,334.61 L369.42,335.21 L370.87,335.81 L372.31,336.42 L373.76,337.02 L375.21,337.62 L376.65,338.22 L378.10,338.82 L379.54,339.41 L380.99,340.01 L382.44,340.60 L383.88,341.19 L385.33,341.78 L386.77,342.36 L388.22,342.95 L389.67,343.53 L391.11,344.11 L392.56,344.69 L394.00,345.27 L395.45,345.85 L396.90,346.43 L398.34,347.00 L399.79,347.58 L401.23,348.15 L402.68,348.72 L404.13,349.30 L405.57,349.87 L407.02,350.43 L408.46,351.00 L409.91,351.57 L411.36,352.14 L412.80,352.70 L414.25,353.27 L415.69,353.83 L417.14,354.39 L418.59,354.95 L420.03,355.51 L421.48,356.06 L422.92,356.61 L424.37,357.16 L425.82,357.70 L427.26,358.25 L428.71,358.78 L430.15,359.32 L431.60,359.85 L433.05,360.38 L434.49,360.90 L435.94,361.42 L437.38,361.93 L438.83,362.44 L440.28,362.94 L441.72,363.44 L443.17,363.93 L444.61,364.41 L446.06,364.89 L447.51,365.36 L448.95,365.83 L450.40,366.30 L451.84,366.77 L453.29,367.23 L454.74,367.69 L456.18,368.16 L457.63,368.62 L459.07,369.09 L460.52,369.56 L461.97,370.03 L463.41,370.49 L464.86,370.96 L466.30,371.41 L467.75,371.87 L469.20,372.31 L470.64,372.76 L472.09,373.20 L473.53,373.63 L474.98,374.06 L476.43,374.49 L477.87,374.92 L479.32,375.35 L480.76,375.78 L482.21,376.21 L483.66,376.64 L485.10,377.07 L486.55,377.49 L487.99,377.92 L489.44,378.35 L490.89,378.77 L492.33,379.19 L493.78,379.61 L495.22,380.03 L496.67,380.44 L498.12,380.85 L499.56,381.26 L501.01,381.66 L502.45,382.06 L503.90,382.45 L505.35,382.84 L506.79,383.22 L508.24,383.60 L509.68,383.97 L511.13,384.34 L512.58,384.70 L514.02,385.06 L515.47,385.42 L516.91,385.77 L518.36,386.13 L519.81,386.48 L521.25,386.83 L522.70,387.17 L524.14,387.51 L525.59,387.86 L527.04,388.19 L528.48,388.53 L529.93,388.86 L531.37,389.19 L532.82,389.52 L534.27,389.84 L535.71,390.16 L537.16,390.47 L538.60,390.79 L540.05,391.10 L541.50,391.40 L542.94,391.70 L544.39,392.00 L545.83,392.30 L547.28,392.59 L548.73,392.87 L550.17,393.16 L551.62,393.43 L553.06,393.71 L554.51,393.98 L555.96,394.24 L557.40,394.50 L558.85,394.76 L560.29,395.01 L561.74,395.25 L563.19,395.49 L564.63,395.73 L566.08,395.96 L567.52,396.19 L568.97,396.41 L570.42,396.63 L571.86,396.85 L573.31,397.06 L574.75,397.27 L576.20,397.47 L577.65,397.68 L579.09,397.88 L580.54,398.08 L581.98,398.28 L583.43,398.47 L584.88,398.67 L586.32,398.86 L587.77,399.05 L589.21,399.25 L590.66,399.44 L592.11,399.63 L593.55,399.82 L595.00,400.01 L596.44,400.20 L597.89,400.38 L599.34,400.57 L600.78,400.75 L602.23,400.94 L603.67,401.12 L605.12,401.30 L606.57,401.48 L608.01,401.66 L609.46,401.83 L610.90,402.01 L612.35,402.18 L613.80,402.36 L615.24,402.53 L616.69,402.70 L618.13,402.87 L619.58,403.04 L621.03,403.21 L622.47,403.38 L623.92,403.54 L625.36,403.71 L626.81,403.87 L628.26,404.04 L629.70,404.20 L631.15,404.36 L632.59,404.52 L634.04,404.68 L635.49,404.83 L636.93,404.99 L638.38,405.14 L639.82,405.29 L641.27,405.44 L642.72,405.59 L644.16,405.74 L645.61,405.88 L647.05,406.03 L648.50,406.17 L649.95,406.30 L651.39,406.44 L652.84,406.57 L654.28,406.71 L655.73,406.83 L657.18,406.96 L658.62,407.09 L660.07,407.22 L661.51,407.34 L662.96,407.47 L664.41,407.59 L665.85,407.71 L667.30,407.83 L668.74,407.96 L670.19,408.08 L671.64,408.19 L673.08,408.31 L674.53,408.43 L675.97,408.54 L677.42,408.66 L678.87,408.77 L680.31,408.88 L681.76,408.99 L683.20,409.10 L684.65,409.21 L686.10,409.31 L687.54,409.42 L688.99,409.52 L690.43,409.62 L691.88,409.72 L693.33,409.82 L694.77,409.91 L696.22,410.01 L697.66,410.10 L699.11,410.19 L700.56,410.28 L702.00,410.36 L703.45,410.44 L704.89,410.53 L706.34,410.60 L707.79,410.68 L709.23,410.76 L710.68,410.83 L712.12,410.90 L713.57,410.97 L715.02,411.04 L716.46,411.11 L717.91,411.18 L719.35,411.24 L720.80,411.31 L722.25,411.38 L723.69,411.44 L725.14,411.51 L726.58,411.57 L728.03,411.64 L729.48,411.70 L730.92,411.76 L732.37,411.82 L733.81,411.89 L735.26,411.95 L736.71,412.01 L738.15,412.06 L739.60,412.12 L741.04,412.18 L742.49,412.24 L743.94,412.30 L745.38,412.35 L746.83,412.41 L748.27,412.46 L749.72,412.52 L751.17,412.57 L752.61,412.62 L754.06,412.68 L755.50,412.73 L756.95,412.78 L758.40,412.83 L759.84,412.88 L761.29,412.93 L762.73,412.98 L764.18,413.02 L765.63,413.07 L767.07,413.12 L768.52,413.16 L769.96,413.21 L771.41,413.25 L772.86,413.30 L774.30,413.34 L775.75,413.38 L777.19,413.43 L778.64,413.47 L780.09,413.51 L781.53,413.55 L782.98,413.59 L784.42,413.63 L785.87,413.66 L787.32,413.70 L788.76,413.74 L790.21,413.77 L791.65,413.81 L793.10,413.85 L794.55,413.88 L795.99,413.91 L797.44,413.95 L798.88,413.98 L800.33,414.01" stroke="#000" stroke-width="4.3"/>
<path d="M136.62,91.81 L138.06,95.46 L139.51,99.10 L140.95,102.72 L142.40,106.32 L143.85,109.89 L145.29,113.44 L146.74,116.95 L148.18,120.43 L149.63,123.87 L151.08,127.28 L152.52,130.64 L153.97,133.96 L155.41,137.23 L156.86,140.47 L158.31,143.65 L159.75,146.80 L161.20,149.89 L162.64,152.94 L164.09,155.94 L165.54,158.90 L166.98,161.81 L168.43,164.67 L169.87,167.49 L171.32,170.26 L172.77,172.99 L174.21,175.67 L175.66,178.31 L177.10,180.90 L178.55,183.45 L180.00,185.96 L181.44,188.43 L182.89,190.85 L184.33,193.24 L185.78,195.58 L187.23,197.88 L188.67,200.15 L190.12,202.38 L191.56,204.57 L193.01,206.73 L194.46,208.85 L195.90,210.93 L197.35,212.98 L198.79,214.99 L200.24,216.98 L201.69,218.93 L203.13,220.85 L204.58,222.74 L206.02,224.59 L207.47,226.42 L208.92,228.22 L210.36,229.99 L211.81,231.73 L213.25,233.45 L214.70,235.14 L216.15,236.80 L217.59,238.44 L219.04,240.05 L220.48,241.64 L221.93,243.21 L223.38,244.75 L224.82,246.27 L226.27,247.76 L227.71,249.24 L229.16,250.69 L230.61,252.13 L232.05,253.54 L233.50,254.93 L234.94,256.31 L236.39,257.66 L237.84,259.00 L239.28,260.32 L240.73,261.62 L242.17,262.90 L243.62,264.17 L245.07,265.42 L246.51,266.66 L247.96,267.88 L249.40,269.08 L250.85,270.27 L252.30,271.45 L253.74,272.61 L255.19,273.75 L256.63,274.89 L258.08,276.01 L259.53,277.12 L260.97,278.21 L262.42,279.29 L263.86,280.36 L265.31,281.42 L266.76,282.47 L268.20,283.51 L269.65,284.53 L271.09,285.55 L272.54,286.55 L273.99,287.55 L275.43,288.54 L276.88,289.51 L278.32,290.48 L279.77,291.44 L281.22,292.39 L282.66,293.33 L284.11,294.26 L285.55,295.18 L287.00,296.10 L288.45,297.01 L289.89,297.91 L291.34,298.81 L292.78,299.69 L294.23,300.57 L295.68,301.45 L297.12,302.32 L298.57,303.18 L300.01,304.03 L301.46,304.88 L302.91,305.73 L304.35,306.57 L305.80,307.40 L307.24,308.23 L308.69,309.05 L310.14,309.87 L311.58,310.68 L313.03,311.49 L314.47,312.30 L315.92,313.10 L317.37,313.90 L318.81,314.69 L320.26,315.48 L321.70,316.26 L323.15,317.05 L324.60,317.83 L326.04,318.60 L327.49,319.37 L328.93,320.14 L330.38,320.91 L331.83,321.67 L333.27,322.43 L334.72,323.19 L336.16,323.94 L337.61,324.70 L339.06,325.45 L340.50,326.19 L341.95,326.94 L343.39,327.68 L344.84,328.42 L346.29,329.16 L347.73,329.90 L349.18,330.63 L350.62,331.37 L352.07,332.10 L353.52,332.83 L354.96,333.55 L356.41,334.28 L357.85,335.00 L359.30,335.72 L360.75,336.44 L362.19,337.16 L363.64,337.88 L365.08,338.59 L366.53,339.30 L367.98,340.01 L369.42,340.72 L370.87,341.43 L372.31,342.13 L373.76,342.84 L375.21,343.54 L376.65,344.23 L378.10,344.93 L379.54,345.62 L380.99,346.32 L382.44,347.01 L383.88,347.69 L385.33,348.38 L386.77,349.06 L388.22,349.74 L389.67,350.42 L391.11,351.09 L392.56,351.77 L394.00,352.44 L395.45,353.10 L396.90,353.77 L398.34,354.43 L399.79,355.09 L401.23,355.74 L402.68,356.39 L404.13,357.04 L405.57,357.69 L407.02,358.33 L408.46,358.96 L409.91,359.60 L411.36,360.23 L412.80,360.86 L414.25,361.48 L415.69,362.10 L417.14,362.72 L418.59,363.33 L420.03,363.93 L421.48,364.54 L422.92,365.14 L424.37,365.73 L425.82,366.32 L427.26,366.91 L428.71,367.49 L430.15,368.07 L431.60,368.64 L433.05,369.21 L434.49,369.77 L435.94,370.33 L437.38,370.88 L438.83,371.43 L440.28,371.98 L441.72,372.52 L443.17,373.05 L444.61,373.58 L446.06,374.10 L447.51,374.62 L448.95,375.14 L450.40,375.65 L451.84,376.15 L453.29,376.65 L454.74,377.15 L456.18,377.63 L457.63,378.12 L459.07,378.60 L460.52,379.07 L461.97,379.54 L463.41,380.00 L464.86,380.46 L466.30,380.92 L467.75,381.37 L469.20,381.81 L470.64,382.25 L472.09,382.68 L473.53,383.11 L474.98,383.53 L476.43,383.95 L477.87,384.36 L479.32,384.77 L480.76,385.18 L482.21,385.57 L483.66,385.97 L485.10,386.36 L486.55,386.74 L487.99,387.12 L489.44,387.50 L490.89,387.86 L492.33,388.23 L493.78,388.59 L495.22,388.95 L496.67,389.30 L498.12,389.65 L499.56,389.99 L501.01,390.33 L502.45,390.66 L503.90,390.99 L505.35,391.31 L506.79,391.63 L508.24,391.95 L509.68,392.26 L511.13,392.57 L512.58,392.88 L514.02,393.18 L515.47,393.47 L516.91,393.76 L518.36,394.05 L519.81,394.34 L521.25,394.62 L522.70,394.89 L524.14,395.17 L525.59,395.43 L527.04,395.70 L528.48,395.96 L529.93,396.22 L531.37,396.48 L532.82,396.73 L534.27,396.98 L535.71,397.22 L537.16,397.46 L538.60,397.70 L540.05,397.93 L541.50,398.17 L542.94,398.39 L544.39,398.62 L545.83,398.84 L547.28,399.06 L548.73,399.28 L550.17,399.49 L551.62,399.70 L553.06,399.91 L554.51,400.12 L555.96,400.32 L557.40,400.52 L558.85,400.71 L560.29,400.91 L561.74,401.10 L563.19,401.29 L564.63,401.47 L566.08,401.66 L567.52,401.84 L568.97,402.02 L570.42,402.19 L571.86,402.37 L573.31,402.54 L574.75,402.71 L576.20,402.88 L577.65,403.04 L579.09,403.21 L580.54,403.37 L581.98,403.53 L583.43,403.68 L584.88,403.84 L586.32,403.99 L587.77,404.14 L589.21,404.29 L590.66,404.43 L592.11,404.58 L593.55,404.72 L595.00,404.86 L596.44,405.00 L597.89,405.14 L599.34,405.27 L600.78,405.41 L602.23,405.54 L603.67,405.67 L605.12,405.80 L606.57,405.93 L608.01,406.05 L609.46,406.18 L610.90,406.30 L612.35,406.42 L613.80,406.54 L615.24,406.66 L616.69,406.77 L618.13,406.89 L619.58,407.00 L621.03,407.11 L622.47,407.22 L623.92,407.33 L625.36,407.44 L626.81,407.55 L628.26,407.65 L629.70,407.76 L631.15,407.86 L632.59,407.96 L634.04,408.06 L635.49,408.16 L636.93,408.26 L638.38,408.36 L639.82,408.45 L641.27,408.55 L642.72,408.64 L644.16,408.73 L645.61,408.82 L647.05,408.91 L648.50,409.00 L649.95,409.09 L651.39,409.18 L652.84,409.26 L654.28,409.35 L655.73,409.43 L657.18,409.52 L658.62,409.60 L660.07,409.68 L661.51,409.76 L662.96,409.84 L664.41,409.92 L665.85,409.99 L667.30,410.07 L668.74,410.15 L670.19,410.22 L671.64,410.30 L673.08,410.37 L674.53,410.44 L675.97,410.51 L677.42,410.58 L678.87,410.65 L680.31,410.72 L681.76,410.79 L683.20,410.86 L684.65,410.93 L686.10,410.99 L687.54,411.06 L688.99,411.12 L690.43,411.19 L691.88,411.25 L693.33,411.32 L694.77,411.38 L696.22,411.44 L697.66,411.50 L699.11,411.56 L700.56,411.62 L702.00,411.68 L703.45,411.74 L704.89,411.80 L706.34,411.85 L707.79,411.91 L709.23,411.97 L710.68,412.02 L712.12,412.08 L713.57,412.13 L715.02,412.19 L716.46,412.24 L717.91,412.29 L719.35,412.34 L720.80,412.40 L722.25,412.45 L723.69,412.50 L725.14,412.55 L726.58,412.60 L728.03,412.65 L729.48,412.70 L730.92,412.74 L732.37,412.79 L733.81,412.84 L735.26,412.89 L736.71,412.93 L738.15,412.98 L739.60,413.03 L741.04,413.07 L742.49,413.11 L743.94,413.16 L745.38,413.20 L746.83,413.25 L748.27,413.29 L749.72,413.33 L751.17,413.37 L752.61,413.42 L754.06,413.46 L755.50,413.50 L756.95,413.54 L758.40,413.58 L759.84,413.62 L761.29,413.66 L762.73,413.70 L764.18,413.74 L765.63,413.78 L767.07,413.82 L768.52,413.85 L769.96,413.89 L771.41,413.93 L772.86,413.97 L774.30,414.00 L775.75,414.04 L777.19,414.07 L778.64,414.11 L780.09,414.15 L781.53,414.18 L782.98,414.21 L784.42,414.25 L785.87,414.28 L787.32,414.32 L788.76,414.35 L790.21,414.38 L791.65,414.42 L793.10,414.45 L794.55,414.48 L795.99,414.51 L797.44,414.55 L798.88,414.58 L800.33,414.61" stroke="#e51e10" stroke-width="3.0"/>
<g fill="#e51e10" stroke="none"><circle cx="87.45" cy="21.67" r="3.3"/><circle cx="93.53" cy="21.82" r="3.3"/><circle cx="99.74" cy="23.30" r="3.3"/><circle cx="106.76" cy="28.75" r="3.3"/><circle cx="113.77" cy="39.00" r="3.3"/><circle cx="121.00" cy="53.62" r="3.3"/><circle cx="128.23" cy="70.73" r="3.3"/><circle cx="136.18" cy="90.71" r="3.3"/><circle cx="143.70" cy="109.54" r="3.3"/><circle cx="151.51" cy="128.29" r="3.3"/><circle cx="159.32" cy="145.86" r="3.3"/><circle cx="166.98" cy="161.81" r="3.3"/><circle cx="175.08" cy="177.26" r="3.3"/><circle cx="183.03" cy="191.09" r="3.3"/><circle cx="191.11" cy="203.89" r="3.3"/><circle cx="199.27" cy="215.65" r="3.3"/><circle cx="207.47" cy="226.42" r="3.3"/><circle cx="215.70" cy="236.29" r="3.3"/><circle cx="223.93" cy="245.34" r="3.3"/><circle cx="232.18" cy="253.67" r="3.3"/><circle cx="240.45" cy="261.37" r="3.3"/><circle cx="248.73" cy="268.52" r="3.3"/><circle cx="257.02" cy="275.18" r="3.3"/><circle cx="265.32" cy="281.43" r="3.3"/><circle cx="273.63" cy="287.31" r="3.3"/><circle cx="281.96" cy="292.87" r="3.3"/><circle cx="290.29" cy="298.16" r="3.3"/><circle cx="298.64" cy="303.22" r="3.3"/><circle cx="306.99" cy="308.08" r="3.3"/><circle cx="315.36" cy="312.79" r="3.3"/><circle cx="323.73" cy="317.36" r="3.3"/><circle cx="332.11" cy="321.82" r="3.3"/><circle cx="340.49" cy="326.19" r="3.3"/><circle cx="348.89" cy="330.49" r="3.3"/><circle cx="357.29" cy="334.72" r="3.3"/><circle cx="365.70" cy="338.89" r="3.3"/><circle cx="374.12" cy="343.01" r="3.3"/><circle cx="382.54" cy="347.06" r="3.3"/><circle cx="390.97" cy="351.03" r="3.3"/><circle cx="399.41" cy="354.92" r="3.3"/><circle cx="407.86" cy="358.70" r="3.3"/><circle cx="416.31" cy="362.36" r="3.3"/><circle cx="424.77" cy="365.90" r="3.3"/><circle cx="433.24" cy="369.28" r="3.3"/><circle cx="441.71" cy="372.51" r="3.3"/><circle cx="450.19" cy="375.57" r="3.3"/><circle cx="458.67" cy="378.47" r="3.3"/><circle cx="467.16" cy="381.18" r="3.3"/><circle cx="475.65" cy="383.73" r="3.3"/><circle cx="484.15" cy="386.10" r="3.3"/><circle cx="492.65" cy="388.31" r="3.3"/><circle cx="501.16" cy="390.36" r="3.3"/><circle cx="509.67" cy="392.26" r="3.3"/><circle cx="518.18" cy="394.02" r="3.3"/><circle cx="526.69" cy="395.64" r="3.3"/><circle cx="535.21" cy="397.14" r="3.3"/><circle cx="543.74" cy="398.52" r="3.3"/><circle cx="552.26" cy="399.80" r="3.3"/><circle cx="560.79" cy="400.97" r="3.3"/><circle cx="569.31" cy="402.06" r="3.3"/><circle cx="577.84" cy="403.07" r="3.3"/><circle cx="586.38" cy="403.99" r="3.3"/><circle cx="594.91" cy="404.85" r="3.3"/><circle cx="603.44" cy="405.65" r="3.3"/><circle cx="611.98" cy="406.39" r="3.3"/><circle cx="620.51" cy="407.07" r="3.3"/><circle cx="629.05" cy="407.71" r="3.3"/><circle cx="637.58" cy="408.30" r="3.3"/><circle cx="646.11" cy="408.85" r="3.3"/><circle cx="654.65" cy="409.37" r="3.3"/><circle cx="663.19" cy="409.85" r="3.3"/><circle cx="671.74" cy="410.30" r="3.3"/><circle cx="680.28" cy="410.72" r="3.3"/><circle cx="688.84" cy="411.12" r="3.3"/><circle cx="697.40" cy="411.49" r="3.3"/><circle cx="705.96" cy="411.84" r="3.3"/><circle cx="714.52" cy="412.17" r="3.3"/><circle cx="723.09" cy="412.48" r="3.3"/><circle cx="731.66" cy="412.77" r="3.3"/><circle cx="740.23" cy="413.04" r="3.3"/><circle cx="748.81" cy="413.31" r="3.3"/><circle cx="757.39" cy="413.55" r="3.3"/><circle cx="765.97" cy="413.79" r="3.3"/><circle cx="774.56" cy="414.01" r="3.3"/><circle cx="783.15" cy="414.22" r="3.3"/><circle cx="791.74" cy="414.42" r="3.3"/><circle cx="800.33" cy="414.61" r="3.3"/></g>
</g>
<circle cx="753.7" cy="43.9" r="2.9" fill="#e51e10"/>
<path d="M728.1,68.15 H779.3" stroke="#0072b2" stroke-width="1.8"/>
<use href="#x" x="753.7" y="92.45"/>
<path d="M728.1,116.7 H779.3" stroke="#0072b2" stroke-width="2.67"/>
<path d="M728.1,141.0 H779.3" stroke="#000" stroke-width="4.3"/>
<path d="M728.1,165.3 H779.3" stroke="#e51e10" stroke-width="3.0"/>
<path d="M405.57,397.3 V419" stroke="#000" stroke-width="2.67" fill="none"/>
<path d="M402.87,414.4 h5.4 l-1.2,6.9 h-3 z" fill="#000" stroke="#000" stroke-width="0.6" stroke-linejoin="round"/>
<rect x="77.33" y="21.67" width="723.0" height="399.65999999999997" fill="none" stroke="#000" stroke-width="1.33" stroke-linejoin="round"/>
<defs><filter id="g" filterUnits="userSpaceOnUse" x="0" y="0" width="830" height="498"><feOffset dx="0" dy="0"/></filter></defs>
<g filter="url(#g)">
<text x="66.8" y="429.33" text-anchor="end">0</text>
<text x="66.8" y="349.4" text-anchor="end">0.2</text>
<text x="66.8" y="269.47" text-anchor="end">0.4</text>
<text x="66.8" y="189.53" text-anchor="end">0.6</text>
<text x="66.8" y="109.6" text-anchor="end">0.8</text>
<text x="79.13" y="453.8" text-anchor="middle">0</text>
<text x="368.33" y="453.8" text-anchor="middle">2</text>
<text x="512.93" y="453.8" text-anchor="middle">3</text>
<text x="657.53" y="453.8" text-anchor="middle">4</text>
<text x="802.13" y="453.8" text-anchor="middle">5</text>
<text x="438.9" y="491.0" text-anchor="middle" textLength="11.6" lengthAdjust="spacingAndGlyphs" style="font-size:21.3px">T</text>
<text transform="translate(32.8,218.9) rotate(-90)" text-anchor="start" style="font-size:17.2px">0</text>
<text x="287.4" y="114.8" text-anchor="start" textLength="74.0" lengthAdjust="spacingAndGlyphs">Ising 4x4</text>
<text x="717.2" y="51.7" text-anchor="end" textLength="152.3" lengthAdjust="spacingAndGlyphs">exact enumeration</text>
<text x="717.2" y="75.95" text-anchor="end" textLength="107.5" lengthAdjust="spacingAndGlyphs">single site LF</text>
<text x="717.2" y="100.25" text-anchor="end" textLength="197.2" lengthAdjust="spacingAndGlyphs">classical limit of bDMFT</text>
<text x="717.2" y="124.5" text-anchor="end" textLength="113.6" lengthAdjust="spacingAndGlyphs">2x2 cluster LF</text>
<text x="717.2" y="148.8" text-anchor="end" textLength="44.7" lengthAdjust="spacingAndGlyphs">FLF-0</text>
<text x="717.2" y="173.1" text-anchor="end" textLength="44.7" lengthAdjust="spacingAndGlyphs">FLF-2</text>
</g>
</svg></body></html>
